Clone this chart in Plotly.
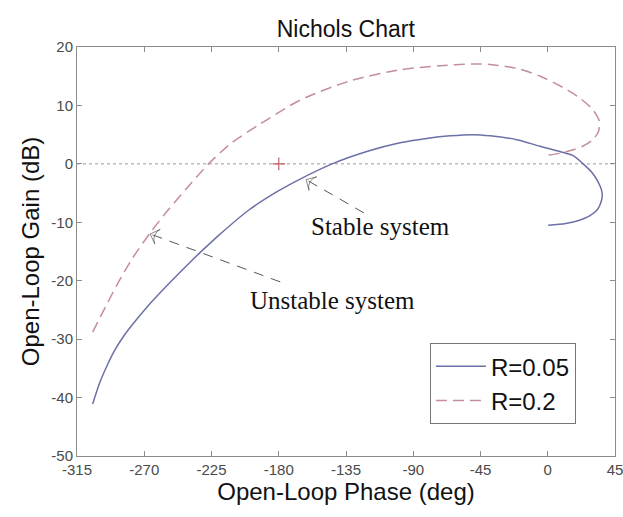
import plotly.graph_objects as go

# R = 0.05 curve (phase deg, gain dB)
phase_r005 = [-304.5, -300, -295, -290, -283, -275, -265, -252.8, -240, -232.7, -220, -200, -180,
              -165.7, -144.3, -120, -98.8, -80, -65.3, -50, -38.6, -20, -5.1, 8, 17, 23.7,
              30, 33.5, 36, 36.4, 35, 33, 28, 21.7, 12, 0.3]
gain_r005 = [-41.1, -37.6, -34.6, -32.0, -29.2, -26.6, -23.6, -20.3, -17.0, -15.2, -12.2, -7.9, -4.6,
             -2.6, 0, 2.2, 3.6, 4.4, 4.8, 5.0, 4.8, 4.1, 3.0, 2.1, 1.4, 0,
             -1.6, -3.0, -4.5, -5.7, -7.0, -7.9, -8.9, -9.6, -10.2, -10.5]

# R = 0.2 curve
phase_r02 = [-304.5, -296, -287.6, -278, -266, -255, -242, -227, -212, -192.5, -165.7,
             -132.3, -98.8, -72, -50, -38.6, -20, -5, 10, 21.7, 30, 34.5, 34, 30.4, 24, 17, 8, 0.3]
gain_r02 = [-28.8, -24.5, -20.4, -16.2, -11.8, -8.2, -4.3, 0, 3.5, 6.8, 10.9,
            14.2, 16.1, 16.8, 17.1, 17.0, 16.3, 15.0, 13.1, 11.2, 9.3, 7.3, 5.6, 4.2, 3.1, 2.4, 1.8, 1.5]

critical_point = (-180, 0)

# annotations: (text, text_x, text_y, arrow_tail_x, arrow_tail_y, arrow_tip_x, arrow_tip_y)
stable_note = ("Stable system", -112.2, -10.8, -123, -8.4, -161.7, -2.7)
unstable_note = ("Unstable system", -144.3, -23.3, -179, -20.2, -266, -12.0)

x_ticks = [-315, -270, -225, -180, -135, -90, -45, 0, 45]
y_ticks = [-50, -40, -30, -20, -10, 0, 10, 20]

fig = go.Figure()

fig.add_trace(go.Scatter(x=phase_r005, y=gain_r005, mode="lines", name="R=0.05",
                         line=dict(color="#6b70a6", width=1.5, shape="spline", smoothing=0.8)))
fig.add_trace(go.Scatter(x=phase_r02, y=gain_r02, mode="lines", name="R=0.2",
                         line=dict(color="#c48e98", width=1.5, dash="11px,6px", shape="spline",
                                   smoothing=0.8)))

fig.add_trace(go.Scatter(x=[critical_point[0]], y=[critical_point[1]], mode="markers",
                         showlegend=False,
                         marker=dict(symbol="cross-thin", size=9,
                                     line=dict(color="#c0606e", width=1.2))))

for note in (stable_note, unstable_note):
    text, tx, ty, ax0, ay0, ax1, ay1 = note
    fig.add_trace(go.Scatter(x=[ax0, ax1], y=[ay0, ay1], mode="lines+markers",
                             showlegend=False,
                             line=dict(color="#444444", width=0.9, dash="10px,8px"),
                             marker=dict(symbol="arrow-wide-open", size=[0, 11], angleref="previous",
                                         color="#444444", line=dict(color="#444444", width=0.9))))
    fig.add_annotation(x=tx, y=ty, text=text, showarrow=False,
                       font=dict(family="Liberation Serif", size=25, color="#111111"))

fig.add_shape(type="line", x0=-315, x1=45, y0=0, y1=0, xref="x", yref="y",
              line=dict(color="#9a9a9a", width=1, dash="dot"), layer="below")

axis_common = dict(showgrid=False, zeroline=False, showline=True, linecolor="#8c8c8c",
                   linewidth=1, mirror="ticks", ticks="inside", ticklen=5, tickcolor="#8c8c8c",
                   automargin=False, ticklabeloverflow="allow",
                   tickfont=dict(family="Liberation Sans", size=15, color="#4a4a4a"))

fig.update_layout(
    width=623, height=517,
    margin=dict(l=77, r=8, t=47, b=61),
    paper_bgcolor="white", plot_bgcolor="white",
    title=dict(text="Nichols Chart", x=0.555, xanchor="center", y=0.944, yanchor="middle",
               font=dict(family="Liberation Sans", size=23, color="#111111")),
    xaxis=dict(range=[-315, 45], tickvals=x_ticks, ticktext=[str(v) for v in x_ticks],
               title=dict(text="Open-Loop Phase (deg)", standoff=5,
                          font=dict(family="Liberation Sans", size=24, color="#111111")),
               **axis_common),
    yaxis=dict(range=[-50, 20], tickvals=y_ticks, ticktext=[str(v) for v in y_ticks],
               title=dict(text="Open-Loop Gain (dB)", standoff=4,
                          font=dict(family="Liberation Sans", size=24, color="#111111")),
               **axis_common),
    legend=dict(x=0.656, y=0.276, xanchor="left", yanchor="top",
                bordercolor="#777777", borderwidth=1, bgcolor="white",
                font=dict(family="Liberation Sans", size=24, color="#111111"),
                itemwidth=50, tracegroupgap=0),
    showlegend=True,
)

fig.write_html("out.html")
